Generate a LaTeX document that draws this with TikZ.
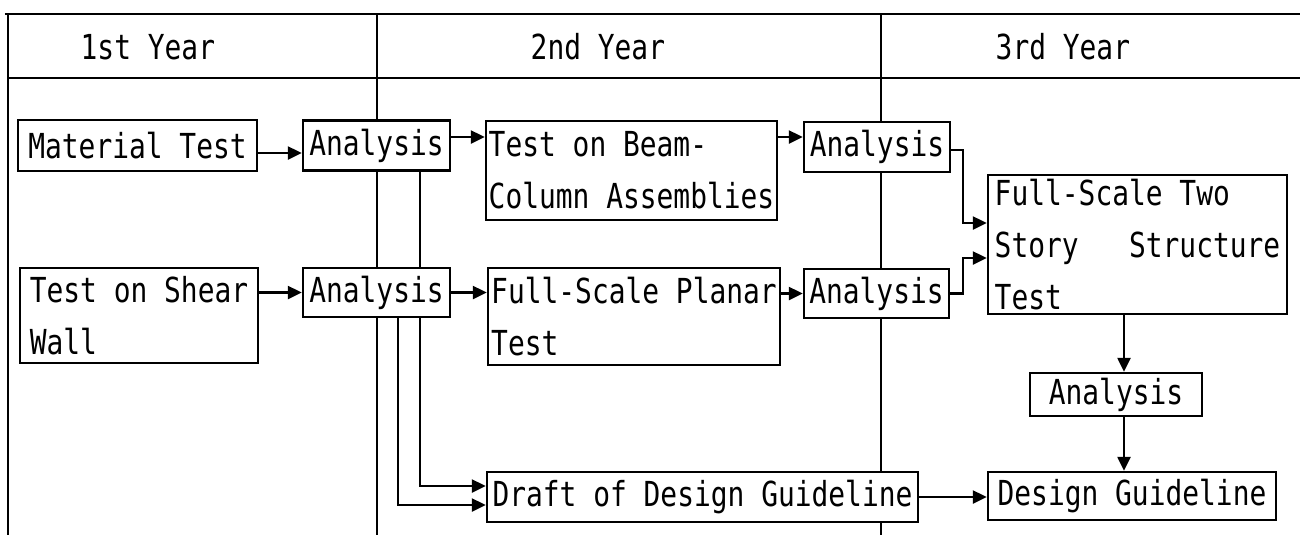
\documentclass[tikz,border=0pt]{standalone}
\usepackage{fontspec}
\newfontfamily\typ[FakeStretch=0.81,WordSpace={1,0,0}]{DejaVu Sans Mono}
\newcommand\boxfont{\typ\fontsize{9.8pt}{14.8pt}\selectfont}
\usetikzlibrary{arrows.meta}

\begin{document}
\begin{tikzpicture}[x=0.1mm,y=-0.1mm,
    box/.style={draw,fill=white,line width=0.7pt,inner sep=0pt,font=\boxfont},
    tall/.style={box,align=left},
    arr/.style={line width=0.7pt,-{Triangle[length=1.4mm,width=1.3mm]}},
    frame/.style={line width=0.8pt}]
    \useasboundingbox (0,0) rectangle (1300,535);
    % year columns
    \draw[frame] (5,14) -- (1300,14);
    \draw[frame] (8,78) -- (1300,78);
    \foreach \x in {8,377,881} {
      \draw[frame] (\x,14) -- (\x,535);
    }
    \node[font=\boxfont,inner sep=0pt,anchor=west] (y1) at (80,47) {1st Year};
    \node[font=\boxfont,inner sep=0pt,anchor=west] (y2) at (530,47) {2nd Year};
    \node[font=\boxfont,inner sep=0pt,anchor=west] (y3) at (995,47) {3rd Year};
    %
    \node[box,minimum width=23.9mm,minimum height=5.1mm] (mat) at (137.5,145.5) {Material Test};
    \node[box,minimum width=14.7mm,minimum height=5mm] (an1) at (376.5,145.5) {Analysis};
    \node[tall,minimum width=29.1mm,minimum height=9.9mm] (beam) at (631.5,170.5) {Test on Beam-\\Column Assemblies};
    \node[box,minimum width=14.6mm,minimum height=5mm] (an2) at (877,147) {Analysis};
    \node[tall,minimum width=23.8mm,minimum height=9.5mm] (shear) at (139,315.5) {Test on Shear\\Wall};
    \node[box,minimum width=14.7mm,minimum height=4.9mm] (an3) at (376.5,292.5) {Analysis};
    \node[tall,minimum width=29.2mm,minimum height=9.7mm] (planar) at (634,316.5) {Full-Scale Planar\\Test};
    \node[box,minimum width=14.5mm,minimum height=4.9mm] (an4) at (876.5,293.5) {Analysis};
    \node[tall,minimum width=29.9mm,minimum height=13.9mm] (story) at (1137.5,244.5) {Full-Scale Two\\Story\ \ \ Structure\\Test};
    \node[box,minimum width=17.2mm,minimum height=4.3mm] (an5) at (1116,394.5) {Analysis};
    \node[box,minimum width=43.1mm,minimum height=5mm] (draft) at (702.5,497) {Draft of Design Guideline};
    \node[box,minimum width=28.8mm,minimum height=4.8mm] (guide) at (1132,496) {Design Guideline};
    % first row
    \draw[arr] ([yshift=-0.75mm]mat.east) -- ([yshift=-0.75mm]an1.west);
    \draw[arr] ([yshift=0.85mm]an1.east) -- ([yshift=0.85mm]an1.east -| beam.west);
    \draw[arr] ([yshift=1mm]an2.west -| beam.east) -- ([yshift=1mm]an2.west);
    % second row
    \draw[arr] (an3.west -| shear.east) -- (an3.west);
    \draw[arr] (an3.east) -- (an3.east -| planar.west);
    \draw[arr] (an4.west -| planar.east) -- (an4.west);
    % into the two story test
    \draw[arr] ([yshift=-0.3mm]an2.east) -- ++(12,0) |- ([yshift=2.15mm]story.west);
    \draw[arr] (an4.east) -- ++(13,0) |- ([yshift=-1.35mm]story.west);
    % down the third year
    \coordinate (dn) at (1124,0);
    \draw[arr] (dn |- story.south) -- (dn |- an5.north);
    \draw[arr] (dn |- an5.south) -- (dn |- guide.north);
    % to the draft
    \coordinate (la) at (420,0);
    \coordinate (lb) at (398,0);
    \draw[line width=0.7pt] (la |- an1.south) -- (la |- an3.north);
    \draw[arr] (la |- an3.south) |- ([yshift=1.1mm]draft.west);
    \draw[arr] (lb |- an3.south) |- ([yshift=-0.8mm]draft.west);
    \draw[arr] (draft.east) -- (draft.east -| guide.west);
\end{tikzpicture}
\end{document}
